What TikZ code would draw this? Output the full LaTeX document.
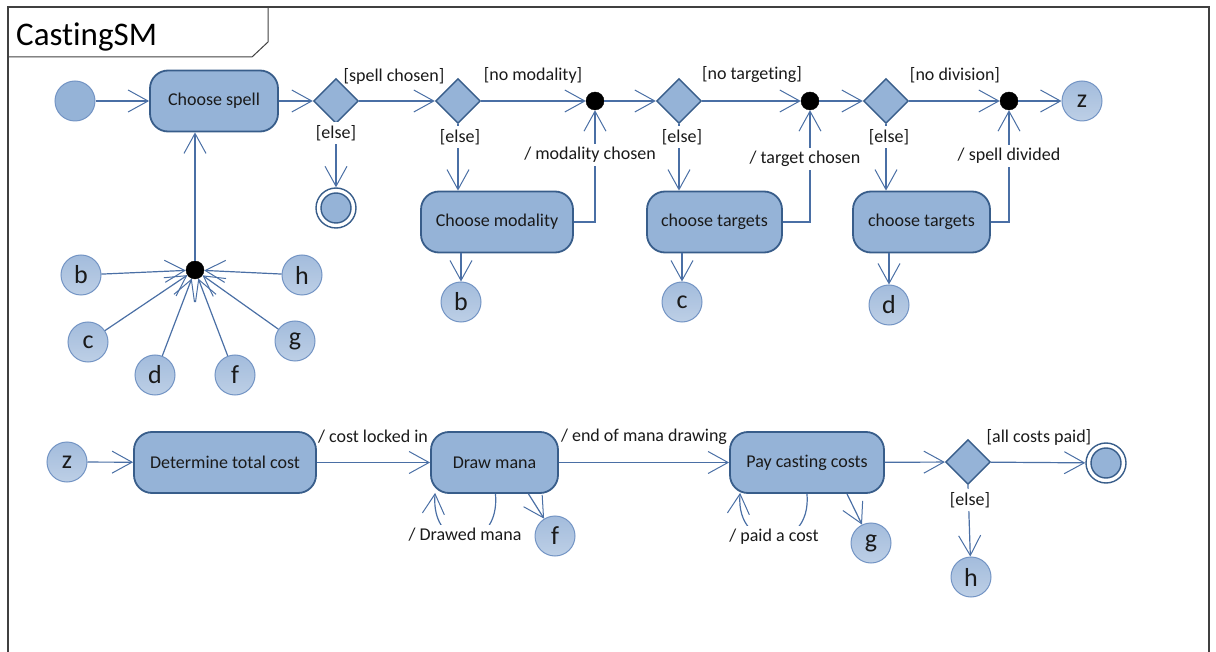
\documentclass[tikz,border=0pt]{standalone}
\usepackage{fontspec}
\setmainfont{Carlito}[Ligatures=NoCommon]
\usetikzlibrary{arrows.meta,shapes.geometric,calc}
\definecolor{statefill}{HTML}{95B3D7}
\definecolor{stateborder}{HTML}{385D8A}
\definecolor{linecol}{HTML}{4A6FA5}
\definecolor{circborder}{HTML}{7394C4}
\definecolor{circtop}{HTML}{A3BCDC}
\definecolor{circbot}{HTML}{BDCFE6}
\definecolor{framecol}{HTML}{404040}
\definecolor{txt}{HTML}{1A1A1A}
\tikzset{
  stbox/.style={draw=stateborder, line width=1.8pt, fill=statefill, rounded corners=18pt,
    minimum height=61pt, inner sep=0pt, text=txt, font=\fontsize{18}{21}\selectfont},
  dec/.style={diamond, aspect=1, draw=stateborder, line width=1.4pt, fill=statefill,
    minimum size=45pt, inner sep=0pt},
  junc/.style={circle, fill=black, draw=black, minimum size=18pt, inner sep=0pt},
  conn/.style={circle, draw=circborder, line width=1pt, top color=circtop, bottom color=circbot,
    minimum size=40pt, inner sep=0pt, text=txt, font=\fontsize{26}{28}\selectfont},
  initst/.style={circle, draw=circborder, line width=1pt, fill=statefill, minimum size=40pt, inner sep=0pt},
  finst/.style={circle, draw=stateborder, line width=1.4pt, fill=white, minimum size=40pt, inner sep=0pt,
    path picture={\fill[statefill, draw=stateborder, line width=1.4pt] (path picture bounding box.center) circle (15pt);}},
  arr/.style={draw=linecol, line width=1.2pt, -{Straight Barb[length=20pt,width=22pt,line width=1pt]}},
  lbl/.style={text=txt, font=\fontsize{18}{21}\selectfont, inner sep=1pt},
  wlbl/.style={lbl, fill=white, inner ysep=3pt},
}
\begin{document}
\begin{tikzpicture}[x=1pt,y=-1pt]
\useasboundingbox (0,0) rectangle (1216,652);
% frame
\draw[framecol, line width=1.5pt] (8,652) -- (8,7) -- (1209,7) -- (1209,652);
\draw[framecol, line width=1pt] (8,57) -- (252,57) -- (268,42) -- (268,7);
\node[anchor=base west, text=black, font=\fontsize{33}{36}\selectfont, inner sep=0pt] (title) at (16,46) {CastingSM};

% ---------- top row ----------
\node[initst] (init) at (75,101) {};
\node[stbox, minimum width=128pt] (cs) at (214,101) {Choose spell};
\node[dec] (d1) at (336,101) {};
\node[finst] (fin1) at (336,208) {};
\node[dec] (d2) at (458,101) {};
\node[junc] (j1) at (595,101) {};
\node[stbox, minimum width=152pt] (mod) at (497,222) {Choose modality};
\node[conn] (b2) at (461,302) {b};
\node[dec] (d3) at (679,101) {};
\node[junc] (j2) at (810,101) {};
\node[stbox, minimum width=135pt] (ct1) at (714.5,222) {choose targets};
\node[conn] (c2) at (682,302) {c};
\node[dec] (d4) at (886,101) {};
\node[junc] (j3) at (1009,101) {};
\node[conn] (zT) at (1082,101) {z};
\node[stbox, minimum width=137pt] (ct2) at (921.5,222) {choose targets};
\node[conn] (dd) at (889,305) {d};

\draw[arr] (init) -- (cs);
\draw[arr] (cs) -- (d1);
\draw[arr] (d1) -- (fin1);
\draw[arr] (d1) -- (d2);
\draw[arr] (d2) -- (j1);
\draw[arr] (d2.south) -- (d2.south |- mod.north);
\draw[arr] (mod.east) -| (j1.south);
\draw[arr] (b2.north |- mod.south) -- (b2);
\draw[arr] (j1) -- (d3);
\draw[arr] (d3) -- (j2);
\draw[arr] (d3.south) -- (d3.south |- ct1.north);
\draw[arr] (ct1.east) -| (j2.south);
\draw[arr] (c2.north |- ct1.south) -- (c2);
\draw[arr] (j2) -- (d4);
\draw[arr] (d4) -- (j3);
\draw[arr] (j3) -- (zT);
\draw[arr] (d4.south) -- (d4.south |- ct2.north);
\draw[arr] (ct2.east) -| (j3.south);
\draw[arr] (dd.north |- ct2.south) -- (dd);

\node[lbl] (l1) at (394,76) {[spell chosen]};
\node[wlbl] (l2) at (336,133) {[else]};
\node[lbl] (l3) at (533,75) {[no modality]};
\node[wlbl] (l4) at (460,137) {[else]};
\node[wlbl] (l5) at (590,155) {/ modality chosen};
\node[lbl] (l6) at (752,75) {[no targeting]};
\node[wlbl] (l7) at (682,137) {[else]};
\node[wlbl] (l8) at (805,159) {/ target chosen};
\node[lbl] (l9) at (955,75) {[no division]};
\node[wlbl] (l10) at (889,137) {[else]};
\node[wlbl] (l11) at (1009,156) {/ spell divided};

% ---------- left cluster ----------
\node[junc] (jL) at (195,270) {};
\node[conn] (bL) at (81,275) {b};
\node[conn] (hL) at (302,275) {h};
\node[conn] (cL) at (88,342) {c};
\node[conn] (gL) at (295,341) {g};
\node[conn] (dL) at (155,375) {d};
\node[conn] (fL) at (235,375) {f};
\draw[arr] (jL) -- (jL |- cs.south);
\foreach \n in {bL,hL,cL,gL,dL,fL} \draw[arr] (\n) -- (jL);

% ---------- bottom row ----------
\node[conn] (zB) at (67,462) {z};
\node[stbox, minimum width=182pt] (det) at (225,462.5) {Determine total cost};
\node[stbox, minimum width=127pt] (dm) at (494.5,462.5) {Draw mana};
\node[conn] (fB) at (555,536) {f};
\node[stbox, minimum width=154pt] (pay) at (807,462.5) {Pay casting costs};
\node[conn] (gB) at (871,543) {g};
\node[dec] (d5) at (968,462) {};
\node[finst] (fin2) at (1106,463) {};
\node[conn] (hB) at (971,577) {h};

\draw[arr] (zB) -- (det);
\draw[arr] (det) -- (dm);
\draw[arr] (dm) -- (pay);
\draw[arr] (pay) -- (d5);
\draw[arr] (d5) -- (fin2);
\draw[arr] (d5.south) -- (hB);
\draw[arr] ($(dm.south)+(34,0)$) -- (fB);
\draw[arr] ($(pay.south)+(40,0)$) -- (gB);
\draw[arr] ($(dm.south)+(1,0)$) .. controls ($(dm.south)+(6,60)$) and ($(dm.south west)+(0,60)$) .. ($(dm.south west)+(5,-1)$);
\draw[arr] (pay.south) .. controls ($(pay.south)+(5,60)$) and ($(pay.south west)+(6,60)$) .. ($(pay.south west)+(11,-1)$);

\node[lbl] (l12) at (373,437) {/ cost locked in};
\node[lbl] (l13) at (644,437) {/ end of mana drawing};
\node[wlbl] (l14) at (465,535) {/ Drawed mana};
\node[wlbl] (l15) at (774,537) {/ paid a cost};
\node[lbl] (l16) at (1039,437) {[all costs paid]};
\node[wlbl] (l17) at (970,500) {[else]};
\end{tikzpicture}
\end{document}
